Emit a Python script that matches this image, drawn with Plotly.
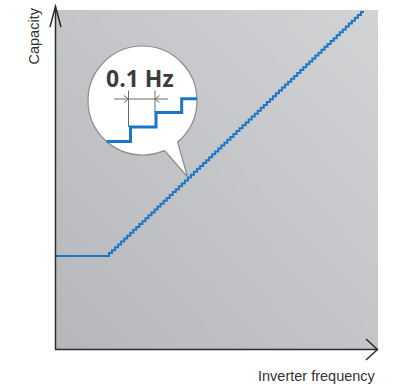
import numpy as np
import plotly.graph_objects as go

# ---------------- data ----------------
FREQ_AXIS = [0, 322]          # inverter frequency axis extent (arbitrary units)
CAP_AXIS = [0, 340]           # capacity axis extent (arbitrary units)
BASE_CAPACITY = 94            # flat capacity below ramp start
RAMP_START_FREQ = 53          # frequency where capacity starts rising
RAMP_END_FREQ = 308           # frequency at top of the ramp
RAMP_END_CAPACITY = 338       # capacity at top of the ramp
N_STEPS = 84                  # number of 0.1 Hz steps drawn
STEP_LABEL = "0.1 Hz"
X_LABEL = "Inverter frequency"
Y_LABEL = "Capacity"

# staircase points (quantized ramp)
dx = (RAMP_END_FREQ - RAMP_START_FREQ) / N_STEPS
dy = (RAMP_END_CAPACITY - BASE_CAPACITY) / N_STEPS
freq = [FREQ_AXIS[0], RAMP_START_FREQ]
cap = [BASE_CAPACITY, BASE_CAPACITY]
for k in range(N_STEPS):
    freq.append(RAMP_START_FREQ + k * dx)
    cap.append(BASE_CAPACITY + (k + 1) * dy)
freq.append(RAMP_END_FREQ)
cap.append(RAMP_END_CAPACITY)

# ---------------- layout geometry ----------------
W, H = 408, 385
L, R, T, B = 56, 30, 10, 35
PW, PH = W - L - R, H - T - B


def dxp(x):  # pixel -> data x
    return x - L


def dyp(y):  # pixel -> data y
    return (H - B) - y


def pxp(x):  # pixel -> paper x
    return (x - L) / PW


def pyp(y):  # pixel -> paper y
    return (H - B - y) / PH


def dpath(pts, close=False):
    s = "M " + " L ".join(f"{dxp(x):.2f},{dyp(y):.2f}" for x, y in pts)
    return s + (" Z" if close else "")


def ppath(pts):
    return "M " + " L ".join(f"{pxp(x):.4f},{pyp(y):.4f}" for x, y in pts)


fig = go.Figure()

# gradient background
fig.add_trace(go.Heatmap(
    x=FREQ_AXIS, y=CAP_AXIS, z=[[0, 0.5], [0.5, 1]],
    colorscale=[[0, "#b6b7bb"], [1, "#d2d3d5"]],
    zsmooth="best", showscale=False, hoverinfo="skip"))

fig.add_trace(go.Scatter(
    x=freq, y=cap, mode="lines", line=dict(color="#1b76c6", width=2, shape="hv"),
    hoverinfo="skip", showlegend=False))

shapes = []
cx, cy, r = 142.5, 100.5, 54.5
grey = "#8c8c8c"
shapes.append(dict(type="circle", xref="x", yref="y",
                   x0=dxp(cx - r), x1=dxp(cx + r), y0=dyp(cy + r), y1=dyp(cy - r),
                   fillcolor="white", line=dict(color=grey, width=1.2), layer="above"))
A, tip, Bp, C = (164.5, 150.5), (187.5, 177), (177.5, 141.5), (160, 128)
shapes.append(dict(type="path", xref="x", yref="y", path=dpath([A, tip, Bp, C], True),
                   fillcolor="white", line=dict(width=0), layer="above"))
shapes.append(dict(type="path", xref="x", yref="y", path=dpath([A, tip, Bp]),
                   line=dict(color=grey, width=1.2), layer="above"))

# dimension lines
dimc = "#6a6a6a"
for pts in ([(128.5, 90.5), (128.5, 127)], [(155, 90.5), (155, 112.5)],
            [(114, 99), (168, 99)],
            [(124, 95.5), (128.5, 99), (124, 102.5)],
            [(159.5, 95.5), (155, 99), (159.5, 102.5)]):
    shapes.append(dict(type="path", xref="x", yref="y", path=dpath(pts),
                       line=dict(color=dimc, width=1), layer="above"))

# zoomed steps
y0s = 141.5
xl = cx - np.sqrt(r ** 2 - (y0s - cy) ** 2)
y3 = 98.7
xr = cx + np.sqrt(r ** 2 - (y3 - cy) ** 2)
steps = [(xl, y0s), (130.5, y0s), (130.5, 127), (156, 127), (156, 112.5),
         (181.7, 112.5), (181.7, y3), (xr, y3)]
shapes.append(dict(type="path", xref="x", yref="y", path=dpath(steps),
                   line=dict(color="#1b76c6", width=3), layer="above"))

# axes with arrows (paper coords)
axc = "#2b2b2b"
for pts in ([(55.5, 350), (55.5, 6.5)], [(55, 349.5), (377.5, 349.5)],
            [(50, 27), (55.5, 6.5), (61, 27)], [(366, 339), (377.5, 349.5), (366, 360)]):
    shapes.append(dict(type="path", xref="paper", yref="paper", path=ppath(pts),
                       line=dict(color=axc, width=1.5), layer="above"))

lab_font = dict(family="Liberation Sans", size=14.5, color="#333333")
annotations = [
    dict(x=dxp(140), y=dyp(77.5), xref="x", yref="y", text=STEP_LABEL, showarrow=False,
         font=dict(family="Open Sans", size=23, color="#3c3c3c", weight="bold"),
         xanchor="center", yanchor="middle"),
    dict(x=pxp(33.5), y=pyp(36), xref="paper", yref="paper", text=Y_LABEL, showarrow=False,
         textangle=-90, font=lab_font, xanchor="center", yanchor="middle"),
    dict(x=pxp(377.5), y=pyp(375.5), xref="paper", yref="paper", text=X_LABEL, showarrow=False,
         font=lab_font, xanchor="right", yanchor="middle"),
]

fig.update_layout(
    width=W, height=H, autosize=False,
    margin=dict(l=L, r=R, t=T, b=B, pad=0),
    paper_bgcolor="white", plot_bgcolor="#c6c7ca",
    shapes=shapes, annotations=annotations, showlegend=False,
    xaxis=dict(range=FREQ_AXIS, showgrid=False, zeroline=False, showticklabels=False,
               ticks="", showline=False, fixedrange=True),
    yaxis=dict(range=CAP_AXIS, showgrid=False, zeroline=False, showticklabels=False,
               ticks="", showline=False, fixedrange=True),
)

fig.write_html("out.html", config={"displayModeBar": False},
               post_script="document.body.style.margin='0';document.body.style.overflow='hidden';")
